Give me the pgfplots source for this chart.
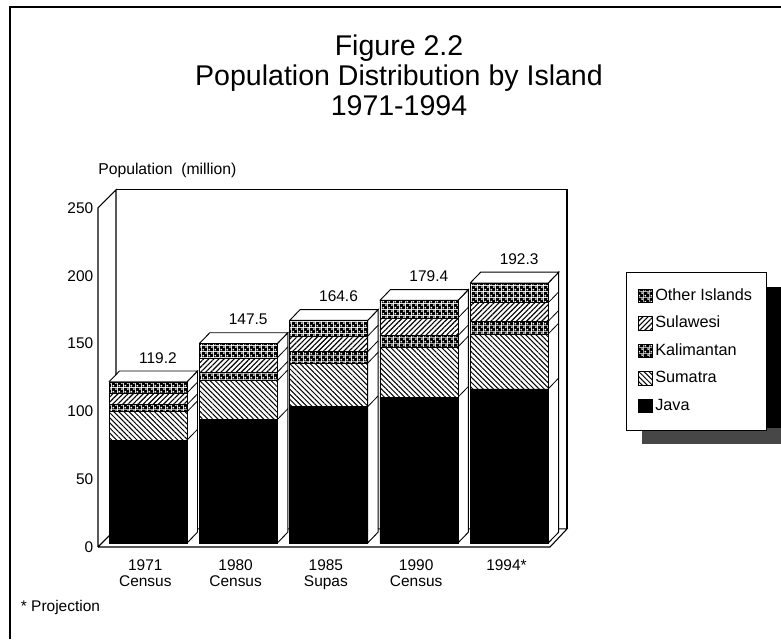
\documentclass[border=0pt]{standalone}
\usepackage{fontspec}
\setmainfont{Liberation Sans}
\usepackage{pgfplots}
\pgfplotsset{compat=1.18}
\usetikzlibrary{patterns,patterns.meta}
\pgfdeclarepatternformonly{holes}{\pgfqpoint{0pt}{0pt}}{\pgfqpoint{4.2pt}{4.2pt}}{\pgfqpoint{4.2pt}{4.2pt}}{%
  \pgfseteorule
  \pgfpathrectangle{\pgfqpoint{0pt}{0pt}}{\pgfqpoint{4.2pt}{4.2pt}}%
  \pgfpathcircle{\pgfqpoint{1.05pt}{1.05pt}}{0.95pt}%
  \pgfpathcircle{\pgfqpoint{3.15pt}{3.15pt}}{0.95pt}%
  \pgfusepath{fill}}
\tikzset{
  pJava/.style={fill=black,draw=black},
  pSum/.style={pattern={Lines[angle=-45,distance=2.7pt,line width=.75pt]},draw=black,preaction={fill=white}},
  pKal/.style={pattern=holes,draw=black,preaction={fill=white}},
  pSul/.style={pattern={Lines[angle=45,distance=2.7pt,line width=.85pt]},draw=black,preaction={fill=white}},
  pOth/.style={pattern=holes,draw=black,preaction={fill=white}},
}
\pgfplotsset{
  common/.style={scale only axis,width=339pt,xmin=-0.554,xmax=4.452,ymin=0,ymax=250,clip=false},
  swatch/.style={legend image code/.code={\draw[#1,line width=.5pt] (0pt,-4.6pt) rectangle (10.5pt,5.4pt);}},
}
\begin{document}
\begin{tikzpicture}[font=\fontsize{11.6}{13}\selectfont]
\path[use as bounding box] (0,0) rectangle (585.75pt,479.25pt);
% scan frame
\fill[black] (6.6pt,0) rectangle (8pt,474.5pt);
\fill[black] (6.6pt,473.4pt) rectangle (585.75pt,475pt);
% title
\node[align=center,font=\fontsize{21.4}{22.5}\selectfont,anchor=center] at (299.25pt,423pt)
  {Figure 2.2\\Population Distribution by Island\\1971-1994};
% legend shadow
\fill[black] (481.5pt,146.25pt) rectangle (585.75pt,264pt);
\fill[black!72] (481.5pt,146.25pt) rectangle (585.75pt,158pt);
% frame axis: wall, floor and scale
\begin{axis}[common,height=254.25pt,at={(73.5pt,69pt)},anchor=south west,
  axis lines=none,
  ]
\addplot[fill=white,draw=black,line width=.8pt] coordinates {(-0.554,0)(-0.355,13.3)(4.640,13.3)(4.452,0)(-0.554,0)};
\addplot[fill=white,draw=black,line width=.8pt] coordinates {(-0.554,0)(-0.355,13.3)(-0.355,263.3)(-0.554,250)(-0.554,0)};
\addplot[draw=black,line width=.8pt] coordinates {(-0.355,263.3)(4.640,263.3)(4.640,13.3)};
\end{axis}
\begin{axis}[common,height=254.25pt,at={(73.5pt,69pt)},anchor=south west,
  axis lines=none,hide x axis=false,hide y axis=false,
  axis line style={draw=none},
  ytick={0,50,100,150,200,250},
  xtick={-0.03,0.97,1.97,2.97,3.97},
  xticklabels={1971\\Census,1980\\Census,1985\\Supas,1990\\Census,1994*},
  xticklabel style={align=center,yshift=-5.8pt,font=\fontsize{11.6}{12}\selectfont},
  tick style={draw=none},
  /pgf/number format/assume math mode=true,
  ylabel={Population\ \ (million)},
  ylabel style={rotate=-90,at={(axis description cs:0,1.111)},anchor=west,inner sep=0pt,font=\fontsize{11.8}{13}\selectfont},
  nodes near coords,
  point meta=y,
  nodes near coords style={anchor=center,yshift=20.6pt,/pgf/number format/fixed,/pgf/number format/fixed zerofill,/pgf/number format/precision=1,/pgf/number format/assume math mode=true},
  ]
\addplot[draw=none,mark=none] coordinates {(0.11,119.2)(1.11,147.5)(2.11,164.6)(3.11,179.4)(4.11,192.3)};
\end{axis}
% side and top faces
\begin{axis}[common,height=253.5pt,at={(73.5pt,72pt)},anchor=south west,axis lines=none]
% bar 1
\addplot[fill=white,draw=black,line width=.7pt] coordinates {(0.432,0)(0.548,8)(0.548,127.2)(0.432,119.2)(0.432,0)};
\addplot[fill=white,draw=black,line width=.7pt] coordinates {(-0.432,119.2)(-0.316,127.2)(0.548,127.2)(0.432,119.2)(-0.432,119.2)};
\addplot[draw=black,line width=.6pt] coordinates {(0.432,76.1)(0.548,84.1)};
\addplot[draw=black,line width=.6pt] coordinates {(0.432,97.1)(0.548,105.1)};
\addplot[draw=black,line width=.6pt] coordinates {(0.432,102.3)(0.548,110.3)};
\addplot[draw=black,line width=.6pt] coordinates {(0.432,111.0)(0.548,119.0)};
% bar 2
\addplot[fill=white,draw=black,line width=.7pt] coordinates {(1.432,0)(1.548,8)(1.548,155.5)(1.432,147.5)(1.432,0)};
\addplot[fill=white,draw=black,line width=.7pt] coordinates {(0.568,147.5)(0.684,155.5)(1.548,155.5)(1.432,147.5)(0.568,147.5)};
\addplot[draw=black,line width=.6pt] coordinates {(1.432,91.3)(1.548,99.3)};
\addplot[draw=black,line width=.6pt] coordinates {(1.432,120.0)(1.548,128.0)};
\addplot[draw=black,line width=.6pt] coordinates {(1.432,126.3)(1.548,134.3)};
\addplot[draw=black,line width=.6pt] coordinates {(1.432,137.0)(1.548,145.0)};
% bar 3
\addplot[fill=white,draw=black,line width=.7pt] coordinates {(2.432,0)(2.548,8)(2.548,172.6)(2.432,164.6)(2.432,0)};
\addplot[fill=white,draw=black,line width=.7pt] coordinates {(1.568,164.6)(1.684,172.6)(2.548,172.6)(2.432,164.6)(1.568,164.6)};
\addplot[draw=black,line width=.6pt] coordinates {(2.432,100.8)(2.548,108.8)};
\addplot[draw=black,line width=.6pt] coordinates {(2.432,133.0)(2.548,141.0)};
\addplot[draw=black,line width=.6pt] coordinates {(2.432,141.5)(2.548,149.5)};
\addplot[draw=black,line width=.6pt] coordinates {(2.432,153.0)(2.548,161.0)};
% bar 4
\addplot[fill=white,draw=black,line width=.7pt] coordinates {(3.432,0)(3.548,8)(3.548,187.4)(3.432,179.4)(3.432,0)};
\addplot[fill=white,draw=black,line width=.7pt] coordinates {(2.568,179.4)(2.684,187.4)(3.548,187.4)(3.432,179.4)(2.568,179.4)};
\addplot[draw=black,line width=.6pt] coordinates {(3.432,107.8)(3.548,115.8)};
\addplot[draw=black,line width=.6pt] coordinates {(3.432,145.0)(3.548,153.0)};
\addplot[draw=black,line width=.6pt] coordinates {(3.432,153.3)(3.548,161.3)};
\addplot[draw=black,line width=.6pt] coordinates {(3.432,166.4)(3.548,174.4)};
% bar 5
\addplot[fill=white,draw=black,line width=.7pt] coordinates {(4.432,0)(4.548,8)(4.548,200.3)(4.432,192.3)(4.432,0)};
\addplot[fill=white,draw=black,line width=.7pt] coordinates {(3.568,192.3)(3.684,200.3)(4.548,200.3)(4.432,192.3)(3.568,192.3)};
\addplot[draw=black,line width=.6pt] coordinates {(4.432,114.0)(4.548,122.0)};
\addplot[draw=black,line width=.6pt] coordinates {(4.432,154.6)(4.548,162.6)};
\addplot[draw=black,line width=.6pt] coordinates {(4.432,164.0)(4.548,172.0)};
\addplot[draw=black,line width=.6pt] coordinates {(4.432,177.7)(4.548,185.7)};
\end{axis}
% stacked fronts and legend
\begin{axis}[common,height=253.5pt,at={(73.5pt,72pt)},anchor=south west,
  hide axis,ybar stacked,bar width=58.5pt,
  reverse legend,
  legend cell align=left,
  legend style={at={(1.168,0.802)},anchor=north west,draw=black,fill=white,line width=.6pt,
    font=\fontsize{12.2}{13}\selectfont,
    inner xsep=8.7pt,inner ysep=10.5pt,row sep=5.65pt,
    nodes={text height=8.5pt,text depth=2.5pt,inner sep=2pt,line width=.5pt}},
  ]
\addplot[pJava,swatch=pJava] coordinates {(0,76.1)(1,91.3)(2,100.8)(3,107.8)(4,114.0)};
\addplot[pSum,swatch=pSum] coordinates {(0,21.0)(1,28.7)(2,32.2)(3,37.2)(4,40.6)};
\addplot[pKal,swatch=pKal] coordinates {(0,5.2)(1,6.3)(2,8.5)(3,8.3)(4,9.4)};
\addplot[pSul,swatch=pSul] coordinates {(0,8.7)(1,10.7)(2,11.5)(3,13.1)(4,13.7)};
\addplot[pOth,swatch=pOth] coordinates {(0,8.2)(1,10.5)(2,11.6)(3,13.0)(4,14.6)};
\legend{Java,Sumatra,Kalimantan,Sulawesi,Other Islands}
\end{axis}
\node[anchor=west,inner sep=0pt] at (15.5pt,24pt) {* Projection};
\end{tikzpicture}
\end{document}
